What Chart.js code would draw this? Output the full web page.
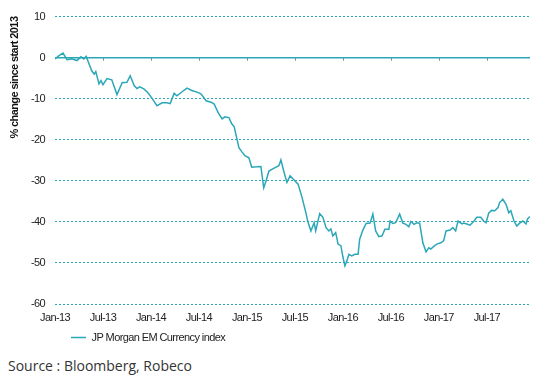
<!DOCTYPE html>
<html>
<head>
<meta charset="utf-8">
<script src="https://cdn.jsdelivr.net/npm/chart.js@4"></script>
<style>
  body { margin: 0; background: #fff; }
  #wrap { position: relative; width: 537px; height: 353px; }
  #source { position: absolute; left: 8px; top: 356px; font-family: "Open Sans", "Noto Sans", sans-serif; font-size: 14px; color: #333; }
</style>
</head>
<body>
<div id="wrap"><canvas id="chart"></canvas></div>
<div id="source">Source : Bloomberg, Robeco</div>
<script>
// months since Jan-13
const months = [0, 0.5, 1.0, 1.5, 2.1, 2.75, 3.25, 3.6, 3.9, 4.25, 4.6, 4.9, 5.1, 5.5, 5.75, 6.0, 6.5, 7.1, 7.75, 8.4,
  9.0, 9.4, 9.9, 10.25, 10.6, 11.1, 11.6, 12.1, 12.75, 13.4, 14.0, 14.4, 14.9, 15.25, 15.9, 16.5, 17.1, 17.75, 18.25, 18.9,
  19.6, 19.9, 20.4, 20.9, 21.25, 21.75, 22.1, 22.4, 22.6, 23.0, 23.4, 23.75, 24.25, 24.6, 25.25, 25.75, 26.1, 26.4, 26.75, 27.4,
  28.0, 28.25, 28.6, 29.0, 29.4, 29.75, 30.4, 30.9, 31.4, 31.6, 32.0, 32.4, 32.6, 33.1, 33.5, 33.9, 34.25, 34.5, 34.75, 35.1,
  35.4, 35.75, 36.0, 36.25, 36.5, 36.75, 37.1, 37.5, 37.9, 38.1, 38.5, 38.9, 39.4, 39.75, 40.1, 40.5, 40.9, 41.25, 41.75, 41.9,
  42.25, 42.6, 43.1, 43.5, 43.9, 44.25, 44.5, 44.9, 45.25, 45.6, 46.0, 46.4, 46.75, 47.0, 47.4, 47.75, 48.25, 48.6, 48.9, 49.4,
  49.75, 50.1, 50.4, 50.9, 51.1, 51.5, 51.9, 52.4, 52.75, 53.25, 53.6, 53.9, 54.25, 54.6, 55.0, 55.4, 55.6, 56.0, 56.4, 56.75,
  57.0, 57.4, 57.75, 58.1, 58.5, 58.9, 59.1, 59.4];

const emCurrency = [-0.3, 0.5, 1.1, -0.5, -0.3, -0.7, 0.2, -0.3, 0.3, -1.5, -3.2, -4.0, -3.4, -6.4, -5.6, -6.6, -5.1, -5.4, -9.0, -6.1,
  -6.0, -4.4, -6.8, -7.5, -7.1, -7.6, -8.5, -9.8, -11.7, -11.0, -11.0, -11.2, -8.7, -9.3, -8.3, -7.4, -8.0, -8.4, -8.8, -10.5,
  -10.9, -11.3, -13.4, -14.9, -14.4, -14.6, -16.1, -16.8, -18.5, -21.9, -23.0, -23.9, -24.4, -26.7, -26.6, -26.5, -31.7, -30.0, -27.6, -26.9,
  -26.3, -24.9, -27.6, -30.4, -28.8, -29.5, -30.8, -34.1, -38.0, -39.8, -42.2, -40.2, -42.2, -38.0, -38.9, -41.4, -42.2, -41.7, -43.4, -42.6,
  -45.4, -45.8, -48.5, -50.7, -49.5, -47.9, -48.3, -47.9, -47.9, -44.2, -42.0, -40.4, -40.3, -38.1, -42.2, -43.6, -43.4, -41.8, -41.8, -39.8,
  -40.4, -40.2, -38.1, -40.3, -40.6, -41.2, -39.9, -40.6, -40.2, -40.3, -45.1, -47.3, -46.3, -46.6, -45.9, -45.4, -45.1, -44.6, -42.2, -42.0,
  -41.4, -42.2, -39.8, -40.5, -40.3, -40.5, -40.8, -39.8, -38.9, -38.9, -39.8, -40.2, -37.8, -37.2, -37.3, -36.5, -35.3, -34.5, -35.7, -37.8,
  -37.3, -39.8, -41.0, -40.3, -39.8, -40.5, -39.3, -38.7];

const tickLabels = ['Jan-13', 'Jul-13', 'Jan-14', 'Jul-14', 'Jan-15', 'Jul-15', 'Jan-16', 'Jul-16', 'Jan-17', 'Jul-17'];

const teal = '#2ba7b8';
const axisFont = { family: "'Liberation Sans Narrow', 'Liberation Sans', Arial, sans-serif", size: 11 };

// condensed look like the original (Arial Narrow style)
const tightText = {
  id: 'tightText',
  beforeInit(chart) { chart.ctx.letterSpacing = '-0.6px'; },
  beforeDraw(chart) { chart.ctx.letterSpacing = '-0.6px'; }
};

// shift legend to the left like the original
const legendShift = {
  id: 'legendShift',
  afterLayout(chart) {
    const lg = chart.legend;
    if (lg) { lg.left = 63; lg.right = lg.left + lg.width; }
  }
};

// zero line + small tick marks on it
const zeroLine = {
  id: 'zeroLine',
  afterDatasetsDraw(chart) {
    const { ctx, chartArea, scales } = chart;
    const y0 = scales.y.getPixelForValue(0);
    ctx.save();
    ctx.strokeStyle = '#888';
    ctx.lineWidth = 1;
    scales.x.ticks.forEach(t => {
      if (t.value === 0) return;
      const x = Math.round(scales.x.getPixelForValue(t.value)) + 0.5;
      ctx.beginPath();
      ctx.moveTo(x, y0);
      ctx.lineTo(x, y0 + 3);
      ctx.stroke();
    });
    ctx.strokeStyle = teal;
    ctx.lineWidth = 1.5;
    ctx.beginPath();
    ctx.moveTo(chartArea.left, y0);
    ctx.lineTo(chartArea.right, y0);
    ctx.stroke();
    ctx.restore();
  }
};

new Chart(document.getElementById('chart'), {
  type: 'line',
  data: {
    datasets: [{
      label: 'JP Morgan EM Currency index',
      data: months.map((m, i) => ({ x: m, y: emCurrency[i] })),
      borderColor: teal,
      backgroundColor: teal,
      borderWidth: 1.5,
      pointRadius: 0,
      tension: 0
    }]
  },
  options: {
    responsive: true,
    maintainAspectRatio: false,
    animation: false,
    layout: { padding: { top: 12, right: 7, left: 0, bottom: 0 } },
    plugins: {
      tooltip: { enabled: false },
      legend: {
        position: 'bottom',
        align: 'start',
        labels: {
          usePointStyle: true,
          pointStyle: 'line',
          pointStyleWidth: 15,
          padding: 8,
          color: '#222',
          font: axisFont
        }
      }
    },
    scales: {
      x: {
        type: 'linear',
        min: 0,
        max: 59.4,
        grid: { display: false, drawTicks: false },
        border: { display: false },
        afterBuildTicks(scale) {
          scale.ticks = tickLabels.map((_, i) => ({ value: i * 6 }));
        },
        ticks: {
          color: '#222',
          font: axisFont,
          maxRotation: 0,
          autoSkip: false,
          padding: 7,
          callback: v => tickLabels[v / 6]
        },
        afterFit(scale) { scale.height = 20; }
      },
      y: {
        min: -60,
        max: 10,
        ticks: { stepSize: 10, color: '#222', font: axisFont, padding: 10 },
        grid: {
          color: ctx => ctx.tick.value === 0 ? 'rgba(0,0,0,0)' : teal,
          lineWidth: 1,
          drawTicks: false
        },
        border: { display: false, dash: [2, 2] },
        title: {
          display: true,
          align: 'end',
          text: '% change since start 2013',
          color: '#111',
          font: { family: axisFont.family, size: 11, weight: 'bold' },
          padding: { top: 8, bottom: 0 }
        },
        afterFit(scale) { scale.width = 55; }
      }
    }
  },
  plugins: [tightText, legendShift, zeroLine]
});
</script>
</body>
</html>
